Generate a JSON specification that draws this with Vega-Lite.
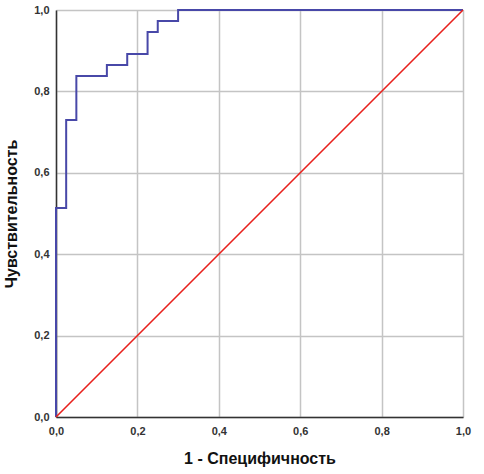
{
  "$schema": "https://vega.github.io/schema/vega-lite/v6.json",
  "width": 407,
  "height": 407,
  "autosize": "none",
  "padding": {"left": 56, "top": 10, "right": 21, "bottom": 57},
  "background": "white",
  "config": {
    "view": {"stroke": null},
    "font": "Liberation Sans",
    "axis": {
      "grid": true,
      "gridColor": "#c4c4c4",
      "gridWidth": 1.5,
      "domainColor": "#333333",
      "domainWidth": 1.5,
      "ticks": false,
      "labelFlush": false,
      "labelFont": "Liberation Sans",
      "labelFontSize": 11,
      "labelFontWeight": "bold",
      "labelColor": "#333333",
      "titleFont": "Liberation Sans",
      "titleFontSize": 16,
      "titleFontWeight": "bold",
      "titleColor": "#111111"
    }
  },
  "datasets": {
    "roc": [
      {"fpr": 0, "sens": 0},
      {"fpr": 0, "sens": 0.5135},
      {"fpr": 0.025, "sens": 0.7297},
      {"fpr": 0.05, "sens": 0.8378},
      {"fpr": 0.125, "sens": 0.8649},
      {"fpr": 0.175, "sens": 0.8919},
      {"fpr": 0.225, "sens": 0.9459},
      {"fpr": 0.25, "sens": 0.973},
      {"fpr": 0.3, "sens": 1.0},
      {"fpr": 1.0, "sens": 1.0}
    ],
    "ref": [
      {"fpr": 0, "sens": 0},
      {"fpr": 1, "sens": 1}
    ]
  },
  "layer": [
    {
      "data": {"name": "roc"},
      "mark": {"type": "line", "interpolate": "step-after", "color": "#4848a8", "strokeWidth": 2, "clip": false},
      "encoding": {
        "x": {
          "field": "fpr", "type": "quantitative",
          "scale": {"domain": [0, 1], "nice": false},
          "axis": {"title": "1 - Специфичность", "values": [0, 0.2, 0.4, 0.6, 0.8, 1.0],
                   "labelExpr": "replace(format(datum.value, '.1f'), '.', ',')",
                   "labelPadding": 8, "titlePadding": 14}
        },
        "y": {
          "field": "sens", "type": "quantitative",
          "scale": {"domain": [0, 1], "nice": false},
          "axis": {"title": "Чувствительность", "values": [0, 0.2, 0.4, 0.6, 0.8, 1.0],
                   "labelExpr": "replace(format(datum.value, '.1f'), '.', ',')",
                   "labelPadding": 7, "titlePadding": 14}
        },
        "order": {"field": "fpr", "type": "quantitative"}
      }
    },
    {
      "data": {"name": "ref"},
      "mark": {"type": "line", "color": "#e8201c", "strokeWidth": 1.6},
      "encoding": {
        "x": {"field": "fpr", "type": "quantitative"},
        "y": {"field": "sens", "type": "quantitative"}
      }
    }
  ]
}
